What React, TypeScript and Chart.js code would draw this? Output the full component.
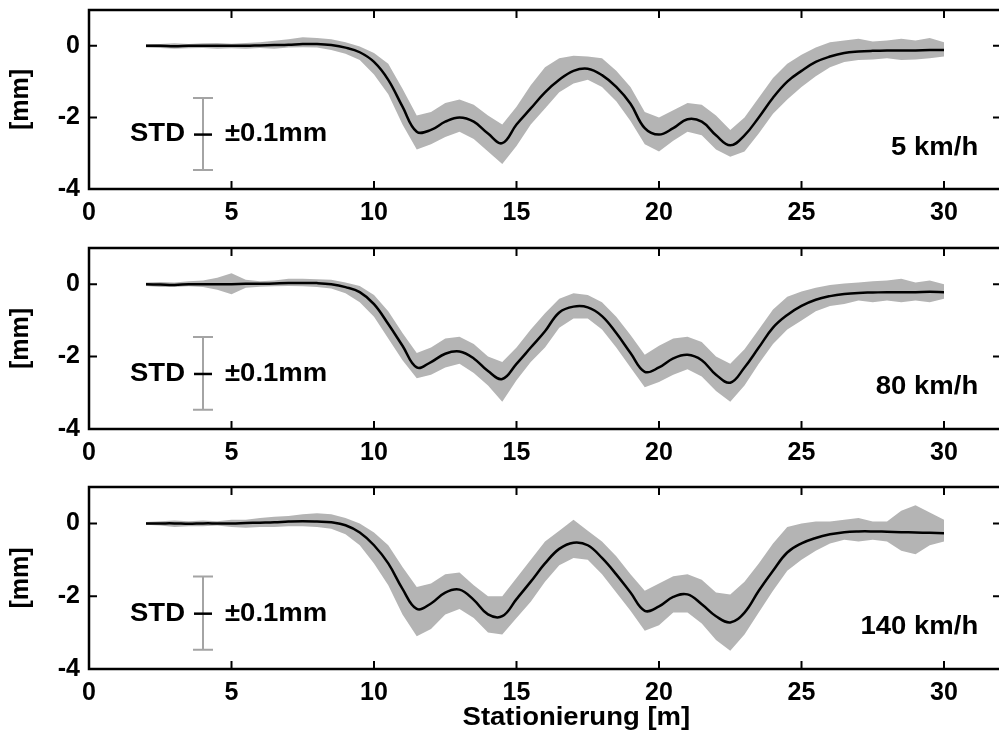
import React, { useEffect, useRef } from "react";
import { Chart, registerables } from "chart.js";

Chart.register(...registerables);

// ---------- data ----------
const STATIONS = [2, 2.5, 3, 3.5, 4, 4.5, 5, 5.5, 6, 6.5, 7, 7.5, 8, 8.5, 9, 9.5, 10, 10.5, 11, 11.5, 12, 12.5, 13, 13.5, 14, 14.5, 15, 15.5, 16, 16.5, 17, 17.5, 18, 18.5, 19, 19.5, 20, 20.5, 21, 21.5, 22, 22.5, 23, 23.5, 24, 24.5, 25, 25.5, 26, 26.5, 27, 27.5, 28, 28.5, 29, 29.5, 30];

const MEAN_5 = [0, 0, -0.01, 0, 0, 0, 0, 0, 0.01, 0.02, 0.03, 0.05, 0.05, 0.02, -0.05, -0.18, -0.45, -0.95, -1.7, -2.4, -2.35, -2.12, -2.0, -2.12, -2.45, -2.72, -2.2, -1.75, -1.3, -0.95, -0.7, -0.64, -0.82, -1.15, -1.62, -2.3, -2.48, -2.3, -2.05, -2.12, -2.5, -2.78, -2.5, -2.0, -1.45, -1.0, -0.7, -0.45, -0.3, -0.2, -0.16, -0.14, -0.13, -0.13, -0.13, -0.12, -0.12];
const UPPER_5 = [0.04, 0.05, 0.07, 0.05, 0.07, 0.08, 0.06, 0.08, 0.1, 0.14, 0.18, 0.24, 0.22, 0.18, 0.1, -0.02, -0.2, -0.5, -1.2, -1.95, -1.85, -1.6, -1.5, -1.65, -1.95, -2.2, -1.7, -1.1, -0.6, -0.35, -0.28, -0.3, -0.35, -0.7, -1.15, -1.85, -2.0, -1.8, -1.6, -1.65, -1.95, -2.35, -2.0, -1.45, -0.9, -0.5, -0.25, -0.05, 0.1, 0.15, 0.2, 0.12, 0.15, 0.2, 0.15, 0.22, 0.1];
const LOWER_5 = [-0.05, -0.06, -0.08, -0.07, -0.06, -0.08, -0.07, -0.08, -0.06, -0.08, -0.05, -0.04, -0.05, -0.12, -0.22, -0.4, -0.8, -1.35, -2.2, -2.9, -2.75, -2.55, -2.4, -2.6, -2.95, -3.3, -2.8, -2.2, -1.75, -1.3, -1.05, -0.95, -1.15, -1.55, -2.1, -2.75, -2.95, -2.65, -2.4, -2.5, -2.9, -3.1, -2.95, -2.45, -1.9, -1.5, -1.15, -0.85, -0.6, -0.45, -0.4, -0.38, -0.35, -0.4, -0.38, -0.35, -0.3];

const MEAN_80 = [0, -0.01, -0.02, 0, 0, 0, 0, 0.01, 0.01, 0.02, 0.03, 0.03, 0.03, 0.0, -0.08, -0.22, -0.55, -1.1, -1.7, -2.3, -2.15, -1.92, -1.86, -2.05, -2.4, -2.62, -2.2, -1.75, -1.3, -0.78, -0.62, -0.64, -0.88, -1.35, -1.9, -2.42, -2.3, -2.05, -1.95, -2.1, -2.5, -2.72, -2.3, -1.75, -1.2, -0.85, -0.6, -0.43, -0.33, -0.27, -0.24, -0.23, -0.22, -0.22, -0.22, -0.21, -0.22];
const UPPER_80 = [0.05, 0.06, 0.05, 0.08, 0.1, 0.18, 0.3, 0.12, 0.08, 0.1, 0.15, 0.15, 0.14, 0.12, 0.05, -0.05, -0.3, -0.75, -1.35, -1.9, -1.75, -1.5, -1.45, -1.65, -2.0, -2.15, -1.75, -1.25, -0.8, -0.4, -0.25, -0.3, -0.5, -0.9, -1.4, -1.95, -1.7, -1.5, -1.45, -1.6, -2.0, -2.2, -1.8, -1.25, -0.7, -0.35, -0.2, -0.1, -0.02, 0.02, 0.05, 0.08, 0.1, 0.15, 0.05, 0.1, 0.0];
const LOWER_80 = [-0.05, -0.08, -0.08, -0.06, -0.08, -0.15, -0.28, -0.1, -0.07, -0.06, -0.05, -0.06, -0.08, -0.12, -0.25, -0.5, -0.9, -1.5, -2.1, -2.6, -2.5, -2.3, -2.2, -2.45, -2.8, -3.25, -2.65, -2.15, -1.75, -1.2, -0.95, -0.95, -1.25, -1.75, -2.3, -2.85, -2.7, -2.5, -2.35, -2.55, -2.95, -3.25, -2.8, -2.2, -1.65, -1.25, -1.0, -0.75, -0.6, -0.55, -0.45, -0.5, -0.45, -0.5, -0.45, -0.5, -0.4];

const MEAN_140 = [0, 0, 0, -0.01, 0, 0, 0, 0.01, 0.02, 0.03, 0.05, 0.06, 0.05, 0.03, -0.05, -0.25, -0.6, -1.1, -1.8, -2.35, -2.2, -1.9, -1.82, -2.1, -2.5, -2.55, -2.08, -1.6, -1.1, -0.7, -0.53, -0.6, -0.95, -1.4, -1.9, -2.4, -2.28, -2.02, -1.95, -2.22, -2.55, -2.72, -2.45, -1.85, -1.3, -0.8, -0.55, -0.4, -0.3, -0.24, -0.22, -0.22, -0.23, -0.24, -0.25, -0.26, -0.27];
const UPPER_140 = [0.04, 0.06, 0.08, 0.06, 0.08, 0.06, 0.1, 0.1, 0.15, 0.18, 0.2, 0.25, 0.28, 0.25, 0.15, 0.0, -0.25, -0.6, -1.2, -1.75, -1.65, -1.4, -1.35, -1.7, -2.0, -2.0, -1.5, -1.0, -0.5, -0.2, 0.1, -0.2, -0.5, -0.9, -1.4, -1.85, -1.65, -1.45, -1.4, -1.55, -1.9, -1.95, -1.6, -1.1, -0.55, -0.1, 0.0, 0.05, 0.05, 0.1, 0.15, 0.05, 0.05, 0.35, 0.5, 0.3, 0.1];
const LOWER_140 = [-0.04, -0.06, -0.1, -0.08, -0.08, -0.06, -0.1, -0.12, -0.1, -0.1, -0.08, -0.08, -0.1, -0.15, -0.3, -0.6, -1.1, -1.7, -2.5, -3.1, -2.9, -2.5, -2.35, -2.6, -3.0, -3.05, -2.6, -2.15, -1.6, -1.15, -0.95, -1.0, -1.4, -1.9, -2.4, -2.95, -2.8, -2.45, -2.45, -2.75, -3.2, -3.5, -3.05, -2.45, -1.85, -1.3, -1.0, -0.75, -0.55, -0.45, -0.5, -0.45, -0.5, -0.75, -0.85, -0.6, -0.5];

const X_TICKS = [0, 5, 10, 15, 20, 25, 30];
const Y_TICKS = [0, -2, -4];
const SPEED_LABELS = ["5 km/h", "80 km/h", "140 km/h"];
const STD_LEFT_TEXT = "STD";
const STD_RIGHT_TEXT = "±0.1mm";
const STD_X = 4;
const STD_TOP = -1.46;
const STD_BOTTOM = -3.47;
const STD_MID = -2.48;
const SPEED_LABEL_X = 31.2;
const SPEED_LABEL_Y = -2.85;
const X_TITLE = "Stationierung [m]";
const X_TITLE_AT = 17.1;
const Y_TITLE = "[mm]";

// ---------- style ----------
const FONT = '"Liberation Sans", Arial, Helvetica, sans-serif';
const FONT_SIZE = 25;
const TEXT_STRETCH = 1.1;
const BAND_COLOR = "#b4b4b4";
const CANVAS_W = 1010;

function stretchedText(ctx: CanvasRenderingContext2D, text: string, x: number, y: number, align: CanvasTextAlign) {
  ctx.save();
  ctx.translate(x, y);
  ctx.scale(TEXT_STRETCH, 1);
  ctx.textAlign = align;
  ctx.fillText(text, 0, 0);
  ctx.restore();
}

const framePlugin = {
  id: "frame",
  afterDraw(chart: any, _args: any, opts: any) {
    const { ctx, chartArea } = chart;
    const { left, right, top, bottom } = chartArea;
    const x = chart.scales.x;
    const y = chart.scales.y;
    ctx.save();
    ctx.strokeStyle = "#000";
    ctx.lineWidth = 2.5;
    ctx.strokeRect(left, top, right - left, bottom - top);
    ctx.lineWidth = 2;
    ctx.beginPath();
    for (const v of X_TICKS) {
      const px = x.getPixelForValue(v);
      ctx.moveTo(px, bottom);
      ctx.lineTo(px, bottom - 8);
      ctx.moveTo(px, top);
      ctx.lineTo(px, top + 8);
    }
    for (const v of Y_TICKS) {
      const py = y.getPixelForValue(v);
      ctx.moveTo(left, py);
      ctx.lineTo(left + 8, py);
      ctx.moveTo(right, py);
      ctx.lineTo(right - 8, py);
    }
    ctx.stroke();

    // STD error bar
    const bx = x.getPixelForValue(STD_X);
    const b1 = y.getPixelForValue(STD_TOP);
    const b2 = y.getPixelForValue(STD_BOTTOM);
    const bm = y.getPixelForValue(STD_MID);
    ctx.strokeStyle = "#a4a4a4";
    ctx.lineWidth = 2;
    ctx.beginPath();
    ctx.moveTo(bx, b1);
    ctx.lineTo(bx, b2);
    ctx.moveTo(bx - 10, b1);
    ctx.lineTo(bx + 10, b1);
    ctx.moveTo(bx - 10, b2);
    ctx.lineTo(bx + 10, b2);
    ctx.stroke();
    ctx.strokeStyle = "#000";
    ctx.lineWidth = 2.5;
    ctx.beginPath();
    ctx.moveTo(bx - 9, bm);
    ctx.lineTo(bx + 9, bm);
    ctx.stroke();

    ctx.fillStyle = "#000";
    ctx.font = `bold ${FONT_SIZE}px ${FONT}`;
    ctx.textBaseline = "middle";
    stretchedText(ctx, STD_LEFT_TEXT, bx - 18, bm, "right");
    stretchedText(ctx, STD_RIGHT_TEXT, bx + 22, bm, "left");
    stretchedText(ctx, opts.label, x.getPixelForValue(SPEED_LABEL_X), y.getPixelForValue(SPEED_LABEL_Y), "right");

    if (opts.xTitle) {
      stretchedText(ctx, X_TITLE, x.getPixelForValue(X_TITLE_AT), bottom + 49, "center");
    }
    ctx.restore();
  },
};

type PanelProps = {
  mean: number[];
  upper: number[];
  lower: number[];
  label: string;
  top: number;
  height: number;
  xTitle: boolean;
};

function Panel({ mean, upper, lower, label, top, height, xTitle }: PanelProps) {
  const ref = useRef<HTMLCanvasElement | null>(null);
  useEffect(() => {
    if (!ref.current) return;
    const pts = (arr: number[]) => STATIONS.map((s, i) => ({ x: s, y: arr[i] }));
    const tickFont = { family: FONT, size: FONT_SIZE, weight: "bold" as const };
    const xAxisHeight = xTitle ? 62 : 51;
    const chart = new Chart(ref.current, {
      type: "line",
      data: {
        datasets: [
          { data: pts(mean), borderColor: "#000", borderWidth: 2.5, pointRadius: 0, tension: 0.4, fill: false },
          { data: pts(lower), borderWidth: 0, borderColor: "rgba(0,0,0,0)", pointRadius: 0, tension: 0, fill: false },
          { data: pts(upper), borderWidth: 0, borderColor: "rgba(0,0,0,0)", pointRadius: 0, tension: 0, fill: "-1", backgroundColor: BAND_COLOR },
        ],
      },
      options: {
        animation: false,
        responsive: false,
        events: [],
        layout: { padding: { top: 10, left: 0, right: 9, bottom: 0 } },
        plugins: {
          legend: { display: false },
          tooltip: { enabled: false },
          frame: { label, xTitle },
        } as any,
        scales: {
          x: {
            type: "linear",
            min: 0,
            max: 32,
            afterBuildTicks: (s: any) => {
              s.ticks = X_TICKS.map((v) => ({ value: v }));
            },
            afterFit: (s: any) => {
              s.height = xAxisHeight;
              s.paddingLeft = 0;
              s.paddingRight = 0;
              s.paddingTop = 0;
              s.paddingBottom = 0;
            },
            grid: { display: false, drawTicks: false },
            border: { display: false },
            ticks: { font: tickFont, color: "#000", padding: 9, maxRotation: 0, autoSkip: false },
          },
          y: {
            type: "linear",
            min: -4,
            max: 1,
            afterBuildTicks: (s: any) => {
              s.ticks = Y_TICKS.map((v) => ({ value: v }));
            },
            afterFit: (s: any) => {
              s.width = 89;
              s.paddingLeft = 0;
              s.paddingRight = 0;
              s.paddingTop = 0;
              s.paddingBottom = 0;
            },
            grid: { display: false, drawTicks: false },
            border: { display: false },
            ticks: { font: tickFont, color: "#000", padding: 9, autoSkip: false },
            title: { display: true, text: Y_TITLE, color: "#000", font: tickFont, padding: { top: 6, bottom: 0 } },
          },
        },
      },
      plugins: [framePlugin],
    });
    return () => chart.destroy();
  }, []);
  return (
    <canvas
      ref={ref}
      width={CANVAS_W}
      height={height}
      style={{ position: "absolute", left: 0, top, width: CANVAS_W, height, display: "block" }}
    />
  );
}

export default function App() {
  return (
    <div
      style={{
        position: "fixed",
        left: 0,
        top: 0,
        width: 999,
        height: 731,
        overflow: "hidden",
        background: "#fff",
      }}
    >
      <Panel mean={MEAN_5} upper={UPPER_5} lower={LOWER_5} label={SPEED_LABELS[0]} top={0} height={240} xTitle={false} />
      <Panel mean={MEAN_80} upper={UPPER_80} lower={LOWER_80} label={SPEED_LABELS[1]} top={238} height={242} xTitle={false} />
      <Panel mean={MEAN_140} upper={UPPER_140} lower={LOWER_140} label={SPEED_LABELS[2]} top={477} height={254} xTitle={true} />
    </div>
  );
}
